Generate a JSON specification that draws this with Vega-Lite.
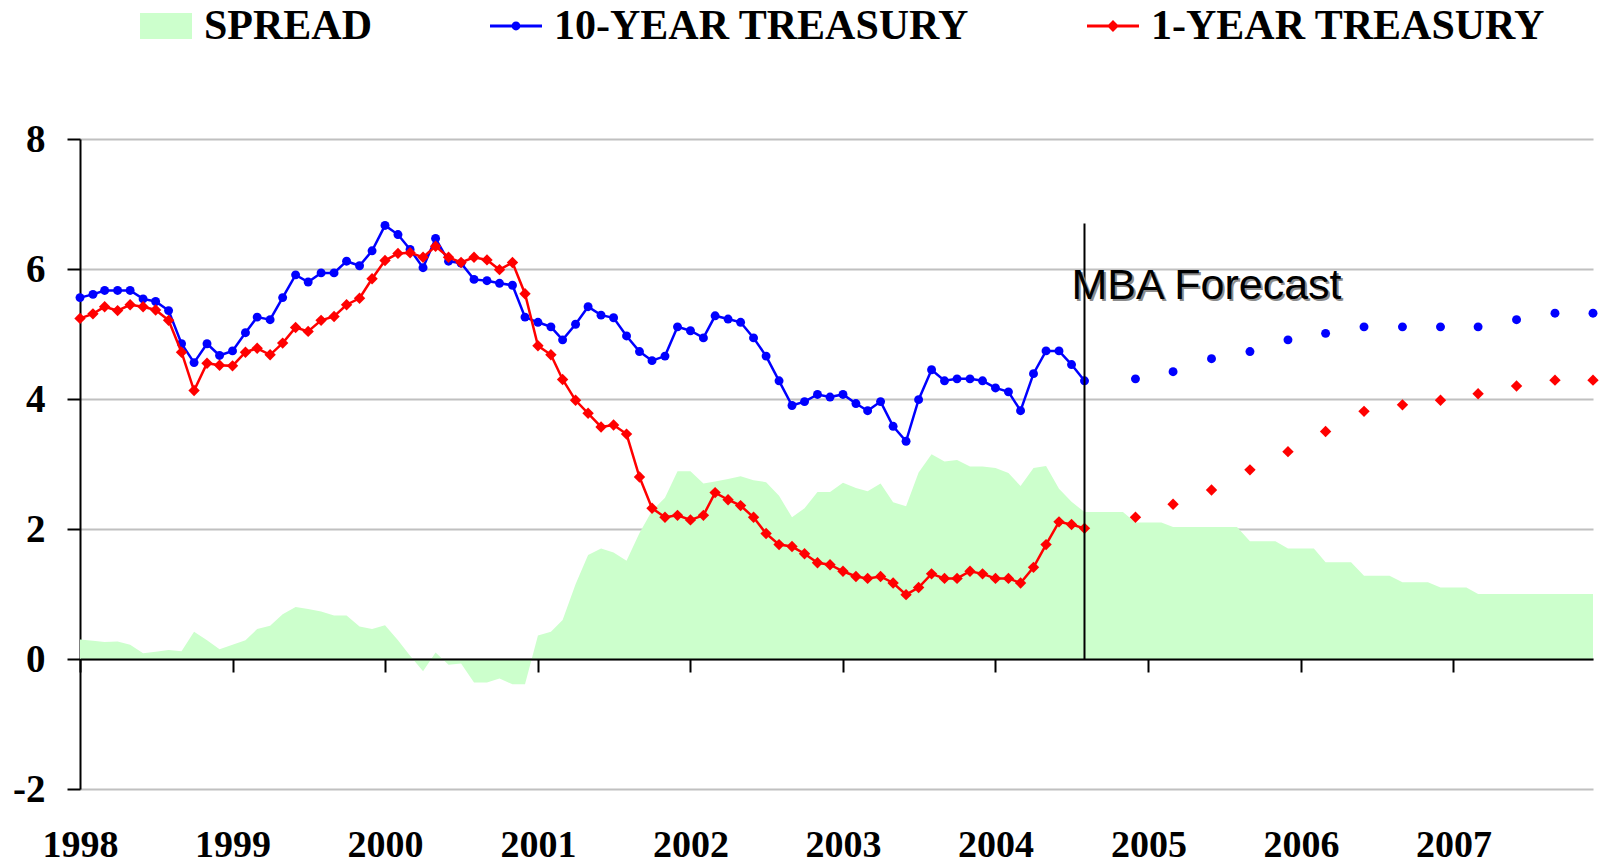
{
  "$schema": "https://vega.github.io/schema/vega-lite/v6.json",
  "autosize": {"type": "none"},
  "width": 1513,
  "height": 650,
  "padding": {"left": 80, "top": 139, "right": 10, "bottom": 74},
  "background": "white",
  "config": {"view": {"stroke": null}, "font": "Liberation Serif"},
  "datasets": {
    "spread": [
      {"date":"1998-01-01","spread":0.30},{"date":"1998-02-01","spread":0.28},{"date":"1998-03-01","spread":0.26},{"date":"1998-04-01","spread":0.27},{"date":"1998-05-01","spread":0.22},{"date":"1998-06-01","spread":0.09},{"date":"1998-07-01","spread":0.11},{"date":"1998-08-01","spread":0.14},{"date":"1998-09-01","spread":0.12},{"date":"1998-10-01","spread":0.42},{"date":"1998-11-01","spread":0.29},{"date":"1998-12-01","spread":0.15},
      {"date":"1999-01-01","spread":0.22},{"date":"1999-02-01","spread":0.29},{"date":"1999-03-01","spread":0.46},{"date":"1999-04-01","spread":0.51},{"date":"1999-05-01","spread":0.69},{"date":"1999-06-01","spread":0.80},{"date":"1999-07-01","spread":0.77},{"date":"1999-08-01","spread":0.73},{"date":"1999-09-01","spread":0.67},{"date":"1999-10-01","spread":0.67},{"date":"1999-11-01","spread":0.50},{"date":"1999-12-01","spread":0.46},
      {"date":"2000-01-01","spread":0.52},{"date":"2000-02-01","spread":0.29},{"date":"2000-03-01","spread":0.05},{"date":"2000-04-01","spread":-0.19},{"date":"2000-05-01","spread":0.10},{"date":"2000-06-01","spread":-0.09},{"date":"2000-07-01","spread":-0.07},{"date":"2000-08-01","spread":-0.36},{"date":"2000-09-01","spread":-0.36},{"date":"2000-10-01","spread":-0.30},{"date":"2000-11-01","spread":-0.39},{"date":"2000-12-01","spread":-0.39},
      {"date":"2001-01-01","spread":0.36},{"date":"2001-02-01","spread":0.42},{"date":"2001-03-01","spread":0.60},{"date":"2001-04-01","spread":1.15},{"date":"2001-05-01","spread":1.60},{"date":"2001-06-01","spread":1.70},{"date":"2001-07-01","spread":1.64},{"date":"2001-08-01","spread":1.51},{"date":"2001-09-01","spread":1.94},{"date":"2001-10-01","spread":2.28},{"date":"2001-11-01","spread":2.48},{"date":"2001-12-01","spread":2.89},
      {"date":"2002-01-01","spread":2.89},{"date":"2002-02-01","spread":2.70},{"date":"2002-03-01","spread":2.73},{"date":"2002-04-01","spread":2.77},{"date":"2002-05-01","spread":2.81},{"date":"2002-06-01","spread":2.75},{"date":"2002-07-01","spread":2.72},{"date":"2002-08-01","spread":2.51},{"date":"2002-09-01","spread":2.18},{"date":"2002-10-01","spread":2.32},{"date":"2002-11-01","spread":2.57},{"date":"2002-12-01","spread":2.57},
      {"date":"2003-01-01","spread":2.71},{"date":"2003-02-01","spread":2.63},{"date":"2003-03-01","spread":2.58},{"date":"2003-04-01","spread":2.70},{"date":"2003-05-01","spread":2.41},{"date":"2003-06-01","spread":2.35},{"date":"2003-07-01","spread":2.87},{"date":"2003-08-01","spread":3.15},{"date":"2003-09-01","spread":3.04},{"date":"2003-10-01","spread":3.06},{"date":"2003-11-01","spread":2.96},{"date":"2003-12-01","spread":2.96},
      {"date":"2004-01-01","spread":2.94},{"date":"2004-02-01","spread":2.86},{"date":"2004-03-01","spread":2.66},{"date":"2004-04-01","spread":2.94},{"date":"2004-05-01","spread":2.97},{"date":"2004-06-01","spread":2.62},{"date":"2004-07-01","spread":2.42},{"date":"2004-08-01","spread":2.26},{"date":"2004-09-01","spread":2.26},{"date":"2004-10-01","spread":2.26},{"date":"2004-11-01","spread":2.26},{"date":"2004-12-01","spread":2.10},
      {"date":"2005-01-01","spread":2.10},{"date":"2005-02-01","spread":2.10},{"date":"2005-03-01","spread":2.03},{"date":"2005-04-01","spread":2.03},{"date":"2005-05-01","spread":2.03},{"date":"2005-06-01","spread":2.03},{"date":"2005-07-01","spread":2.03},{"date":"2005-08-01","spread":2.03},{"date":"2005-09-01","spread":1.81},{"date":"2005-10-01","spread":1.81},{"date":"2005-11-01","spread":1.81},{"date":"2005-12-01","spread":1.70},
      {"date":"2006-01-01","spread":1.70},{"date":"2006-02-01","spread":1.70},{"date":"2006-03-01","spread":1.49},{"date":"2006-04-01","spread":1.49},{"date":"2006-05-01","spread":1.49},{"date":"2006-06-01","spread":1.28},{"date":"2006-07-01","spread":1.28},{"date":"2006-08-01","spread":1.28},{"date":"2006-09-01","spread":1.18},{"date":"2006-10-01","spread":1.18},{"date":"2006-11-01","spread":1.18},{"date":"2006-12-01","spread":1.10},
      {"date":"2007-01-01","spread":1.10},{"date":"2007-02-01","spread":1.10},{"date":"2007-03-01","spread":1.00},{"date":"2007-04-01","spread":1.00},{"date":"2007-05-01","spread":1.00},{"date":"2007-06-01","spread":1.00},{"date":"2007-07-01","spread":1.00},{"date":"2007-08-01","spread":1.00},{"date":"2007-09-01","spread":1.00},{"date":"2007-10-01","spread":1.00},{"date":"2007-11-01","spread":1.00},{"date":"2007-12-01","spread":1.00}
    ],
    "actual": [
      {"date":"1998-01-01","t10":5.56,"t1":5.24},{"date":"1998-02-01","t10":5.61,"t1":5.31},{"date":"1998-03-01","t10":5.67,"t1":5.42},{"date":"1998-04-01","t10":5.67,"t1":5.36},{"date":"1998-05-01","t10":5.67,"t1":5.45},{"date":"1998-06-01","t10":5.54,"t1":5.42},{"date":"1998-07-01","t10":5.50,"t1":5.37},{"date":"1998-08-01","t10":5.36,"t1":5.21},{"date":"1998-09-01","t10":4.85,"t1":4.72},{"date":"1998-10-01","t10":4.56,"t1":4.13},{"date":"1998-11-01","t10":4.85,"t1":4.55},{"date":"1998-12-01","t10":4.67,"t1":4.52},
      {"date":"1999-01-01","t10":4.74,"t1":4.51},{"date":"1999-02-01","t10":5.02,"t1":4.72},{"date":"1999-03-01","t10":5.26,"t1":4.78},{"date":"1999-04-01","t10":5.22,"t1":4.68},{"date":"1999-05-01","t10":5.56,"t1":4.86},{"date":"1999-06-01","t10":5.91,"t1":5.10},{"date":"1999-07-01","t10":5.80,"t1":5.04},{"date":"1999-08-01","t10":5.94,"t1":5.21},{"date":"1999-09-01","t10":5.94,"t1":5.27},{"date":"1999-10-01","t10":6.12,"t1":5.45},{"date":"1999-11-01","t10":6.05,"t1":5.55},{"date":"1999-12-01","t10":6.28,"t1":5.85},
      {"date":"2000-01-01","t10":6.67,"t1":6.13},{"date":"2000-02-01","t10":6.53,"t1":6.24},{"date":"2000-03-01","t10":6.30,"t1":6.25},{"date":"2000-04-01","t10":6.02,"t1":6.18},{"date":"2000-05-01","t10":6.47,"t1":6.35},{"date":"2000-06-01","t10":6.12,"t1":6.18},{"date":"2000-07-01","t10":6.09,"t1":6.10},{"date":"2000-08-01","t10":5.84,"t1":6.18},{"date":"2000-09-01","t10":5.82,"t1":6.14},{"date":"2000-10-01","t10":5.78,"t1":5.99},{"date":"2000-11-01","t10":5.75,"t1":6.10},{"date":"2000-12-01","t10":5.26,"t1":5.62},
      {"date":"2001-01-01","t10":5.18,"t1":4.82},{"date":"2001-02-01","t10":5.11,"t1":4.68},{"date":"2001-03-01","t10":4.91,"t1":4.30},{"date":"2001-04-01","t10":5.15,"t1":3.98},{"date":"2001-05-01","t10":5.42,"t1":3.78},{"date":"2001-06-01","t10":5.29,"t1":3.57},{"date":"2001-07-01","t10":5.25,"t1":3.60},{"date":"2001-08-01","t10":4.97,"t1":3.46},{"date":"2001-09-01","t10":4.73,"t1":2.80},{"date":"2001-10-01","t10":4.59,"t1":2.32},{"date":"2001-11-01","t10":4.66,"t1":2.18},{"date":"2001-12-01","t10":5.11,"t1":2.21},
      {"date":"2002-01-01","t10":5.05,"t1":2.14},{"date":"2002-02-01","t10":4.94,"t1":2.21},{"date":"2002-03-01","t10":5.28,"t1":2.56},{"date":"2002-04-01","t10":5.23,"t1":2.45},{"date":"2002-05-01","t10":5.18,"t1":2.36},{"date":"2002-06-01","t10":4.94,"t1":2.18},{"date":"2002-07-01","t10":4.66,"t1":1.93},{"date":"2002-08-01","t10":4.28,"t1":1.76},{"date":"2002-09-01","t10":3.90,"t1":1.73},{"date":"2002-10-01","t10":3.96,"t1":1.62},{"date":"2002-11-01","t10":4.07,"t1":1.48},{"date":"2002-12-01","t10":4.03,"t1":1.45},
      {"date":"2003-01-01","t10":4.07,"t1":1.35},{"date":"2003-02-01","t10":3.93,"t1":1.27},{"date":"2003-03-01","t10":3.82,"t1":1.24},{"date":"2003-04-01","t10":3.96,"t1":1.27},{"date":"2003-05-01","t10":3.58,"t1":1.17},{"date":"2003-06-01","t10":3.35,"t1":0.99},{"date":"2003-07-01","t10":3.99,"t1":1.10},{"date":"2003-08-01","t10":4.45,"t1":1.31},{"date":"2003-09-01","t10":4.28,"t1":1.24},{"date":"2003-10-01","t10":4.31,"t1":1.24},{"date":"2003-11-01","t10":4.31,"t1":1.35},{"date":"2003-12-01","t10":4.28,"t1":1.31},
      {"date":"2004-01-01","t10":4.17,"t1":1.24},{"date":"2004-02-01","t10":4.11,"t1":1.24},{"date":"2004-03-01","t10":3.82,"t1":1.17},{"date":"2004-04-01","t10":4.39,"t1":1.41},{"date":"2004-05-01","t10":4.74,"t1":1.76},{"date":"2004-06-01","t10":4.74,"t1":2.11},{"date":"2004-07-01","t10":4.53,"t1":2.07},{"date":"2004-08-01","t10":4.28,"t1":2.01}
    ],
    "forecast": [
      {"date":"2004-12-01","t10":4.31,"t1":2.18},{"date":"2005-03-01","t10":4.42,"t1":2.38},{"date":"2005-06-01","t10":4.62,"t1":2.60},{"date":"2005-09-01","t10":4.73,"t1":2.91},{"date":"2005-12-01","t10":4.91,"t1":3.19},{"date":"2006-03-01","t10":5.01,"t1":3.50},{"date":"2006-06-01","t10":5.11,"t1":3.81},{"date":"2006-09-01","t10":5.11,"t1":3.91},{"date":"2006-12-01","t10":5.11,"t1":3.98},{"date":"2007-03-01","t10":5.11,"t1":4.08},{"date":"2007-06-01","t10":5.22,"t1":4.20},{"date":"2007-09-01","t10":5.32,"t1":4.29},{"date":"2007-12-01","t10":5.32,"t1":4.29}
    ],
    "legend": [{"series":"SPREAD"},{"series":"10-YEAR TREASURY"},{"series":"1-YEAR TREASURY"}]
  },
  "resolve": {"axis": {"x": "independent", "y": "independent"}},
  "layer": [
    {
      "data": {"name": "spread"},
      "mark": {"type": "area", "color": "#ccffcc", "interpolate": "linear"},
      "encoding": {
        "x": {"field": "date", "type": "temporal",
          "scale": {"type": "utc", "domain": [{"year":1998,"month":1,"date":1,"utc":true},{"year":2007,"month":12,"date":1,"utc":true}]},
          "axis": {"orient": "bottom", "title": null, "format": "%Y", "tickCount": {"interval": "year", "step": 1},
            "domain": false, "ticks": false, "tickSize": 0, "grid": false,
            "labelFont": "Liberation Serif", "labelFontWeight": "bold", "labelFontSize": 38, "labelColor": "black",
            "labelBaseline": "alphabetic", "labelPadding": 67, "labelFlush": false, "labelOverlap": false}},
        "y": {"field": "spread", "type": "quantitative",
          "scale": {"domain": [-2, 8], "nice": false},
          "axis": {"title": null, "values": [-2, 0, 2, 4, 6, 8], "labelExpr": "'' + datum.value",
            "domain": true, "domainColor": "black", "domainWidth": 2,
            "ticks": true, "tickColor": "black", "tickWidth": 2, "tickSize": 13,
            "grid": true, "gridColor": "#c0c0c0", "gridWidth": 2,
            "labelFont": "Liberation Serif", "labelFontWeight": "bold", "labelFontSize": 39, "labelColor": "black",
            "labelPadding": 22, "labelFlush": false}},
        "y2": {"datum": 0}
      }
    },
    {
      "data": {"name": "actual"},
      "mark": {"type": "line", "color": "#0000ff", "strokeWidth": 2.5,
        "point": {"filled": true, "color": "#0000ff", "size": 80, "shape": "circle", "opacity": 1}},
      "encoding": {
        "x": {"field": "date", "type": "temporal", "axis": null},
        "y": {"field": "t10", "type": "quantitative", "axis": null}
      }
    },
    {
      "data": {"name": "actual"},
      "mark": {"type": "line", "color": "#ff0000", "strokeWidth": 2.5,
        "point": {"filled": true, "color": "#ff0000", "size": 130, "shape": "diamond", "opacity": 1}},
      "encoding": {
        "x": {"field": "date", "type": "temporal", "axis": null},
        "y": {"field": "t1", "type": "quantitative", "axis": null}
      }
    },
    {
      "data": {"name": "forecast"},
      "mark": {"type": "point", "filled": true, "color": "#0000ff", "size": 80, "shape": "circle", "opacity": 1},
      "encoding": {
        "x": {"field": "date", "type": "temporal",
          "axis": {"orient": "bottom", "offset": -130, "title": null, "tickCount": {"interval": "year", "step": 1},
            "labels": false, "domain": true, "domainColor": "black", "domainWidth": 2,
            "ticks": true, "tickColor": "black", "tickWidth": 2, "tickSize": 13, "grid": false, "zindex": 1}},
        "y": {"field": "t10", "type": "quantitative", "axis": null}
      }
    },
    {
      "data": {"name": "forecast"},
      "mark": {"type": "point", "filled": true, "color": "#ff0000", "size": 130, "shape": "diamond", "opacity": 1},
      "encoding": {
        "x": {"field": "date", "type": "temporal", "axis": null},
        "y": {"field": "t1", "type": "quantitative", "axis": null}
      }
    },
    {
      "data": {"values": [{}]},
      "mark": {"type": "rule", "color": "black", "strokeWidth": 2},
      "encoding": {
        "x": {"datum": {"year":2004,"month":8,"date":1,"utc":true}, "type": "temporal", "axis": null},
        "y": {"datum": 0, "type": "quantitative", "axis": null},
        "y2": {"datum": 6.7}
      }
    },
    {
      "data": {"values": [{}]},
      "mark": {"type": "text", "text": "MBA Forecast", "font": "Liberation Sans", "fontSize": 43, "align": "left", "baseline": "alphabetic", "dx": -11, "dy": 2, "color": "#8c8c8c"},
      "encoding": {
        "x": {"datum": {"year":2004,"month":8,"date":1,"utc":true}, "type": "temporal", "axis": null},
        "y": {"datum": 5.54, "type": "quantitative", "axis": null}
      }
    },
    {
      "data": {"values": [{}]},
      "mark": {"type": "text", "text": "MBA Forecast", "font": "Liberation Sans", "fontSize": 43, "align": "left", "baseline": "alphabetic", "dx": -13, "color": "black"},
      "encoding": {
        "x": {"datum": {"year":2004,"month":8,"date":1,"utc":true}, "type": "temporal", "axis": null},
        "y": {"datum": 5.54, "type": "quantitative", "axis": null}
      }
    },
    {
      "data": {"name": "legend"},
      "transform": [{"filter": "datum.series == 'none'"}],
      "mark": {"type": "point", "filled": true, "opacity": 1},
      "encoding": {
        "color": {"field": "series", "type": "nominal",
          "scale": {"domain": ["SPREAD", "10-YEAR TREASURY", "1-YEAR TREASURY"], "range": ["#ccffcc", "#0000ff", "#ff0000"]},
          "legend": {"title": null, "orient": "none", "legendX": 60, "legendY": -139, "direction": "horizontal",
            "symbolSize": 2704, "symbolStrokeWidth": 0, "symbolOpacity": 1,
            "labelFont": "Liberation Serif", "labelFontWeight": "bold", "labelFontSize": 42, "labelColor": "black",
            "labelOffset": 12, "columnPadding": 117, "labelLimit": 800, "padding": 0, "rowPadding": 0}},
        "shape": {"field": "series", "type": "nominal",
          "scale": {"domain": ["SPREAD", "10-YEAR TREASURY", "1-YEAR TREASURY"],
            "range": ["M-1,-0.5H1V0.5H-1Z",
                      "M-1,-0.06H1V0.06H-1Z M0.17,0A0.17,0.17,0,1,1,-0.17,0A0.17,0.17,0,1,1,0.17,0Z",
                      "M-1,-0.06H1V0.06H-1Z M0,-0.23L0.23,0L0,0.23L-0.23,0Z"]}}
      }
    }
  ]
}
